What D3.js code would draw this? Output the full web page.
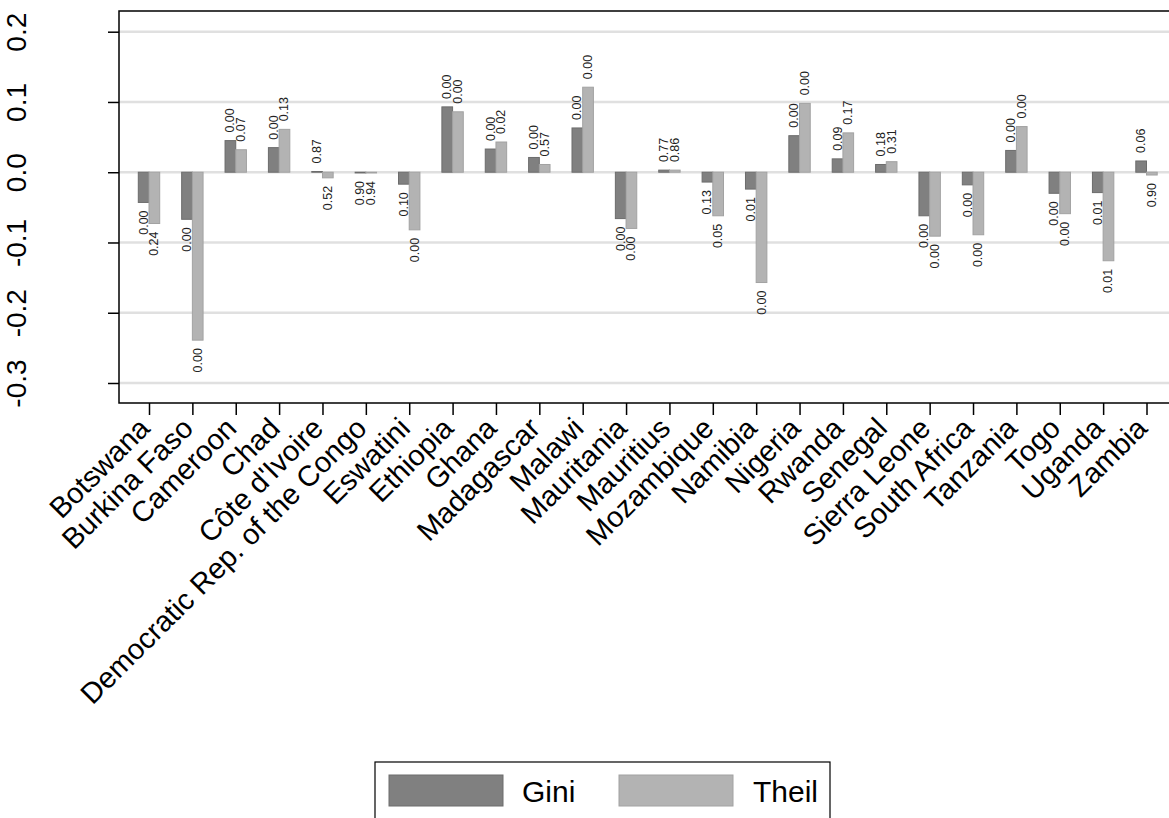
<!DOCTYPE html>
<html>
<head>
<meta charset="utf-8">
<script src="https://cdn.jsdelivr.net/npm/d3@7"></script>
<style>
body { margin: 0; background: #fff; }
text { font-family: "Liberation Sans", Arial, sans-serif; }
</style>
</head>
<body>
<svg id="chart" width="1169" height="818"></svg>
<script>
var countries = ["Botswana", "Burkina Faso", "Cameroon", "Chad", "Côte d'Ivoire",
    "Democratic Rep. of the Congo", "Eswatini", "Ethiopia", "Ghana", "Madagascar",
    "Malawi", "Mauritania", "Mauritius", "Mozambique", "Namibia", "Nigeria", "Rwanda",
    "Senegal", "Sierra Leone", "South Africa", "Tanzania", "Togo", "Uganda", "Zambia"];

var giniValues = [-0.043, -0.067, 0.045, 0.035, 0.001, -0.001, -0.017, 0.093, 0.033, 0.021,
    0.063, -0.066, 0.003, -0.014, -0.024, 0.052, 0.019, 0.011, -0.062, -0.018,
    0.031, -0.030, -0.029, 0.016];
var theilValues = [-0.073, -0.239, 0.032, 0.061, -0.008, -0.001, -0.082, 0.086, 0.043, 0.011,
    0.121, -0.080, 0.003, -0.062, -0.157, 0.098, 0.056, 0.015, -0.091, -0.089,
    0.065, -0.059, -0.126, -0.004];

// p-values printed at the end of each bar
var giniPValues = ["0.00", "0.00", "0.00", "0.00", "0.87", "0.90", "0.10", "0.00", "0.00", "0.00",
    "0.00", "0.00", "0.77", "0.13", "0.01", "0.00", "0.09", "0.18", "0.00", "0.00",
    "0.00", "0.00", "0.01", "0.06"];
var theilPValues = ["0.24", "0.00", "0.07", "0.13", "0.52", "0.94", "0.00", "0.00", "0.02", "0.57",
    "0.00", "0.00", "0.86", "0.05", "0.00", "0.00", "0.17", "0.31", "0.00", "0.00",
    "0.00", "0.00", "0.01", "0.90"];

var yTicks = [-0.3, -0.2, -0.1, 0.0, 0.1, 0.2];
var seriesNames = ["Gini", "Theil"];
var seriesColors = ["#808080", "#b3b3b3"];
var seriesStrokes = ["#6c6c6c", "#a2a2a2"];

var svg = d3.select("#chart");

var plotLeft = 119, plotTop = 11, plotBottom = 403, plotRight = 1180;

var x = d3.scalePoint()
    .domain(countries)
    .range([149, 1146.5]);

var barWidth = 10.7;

var y = d3.scaleLinear()
    .domain([-0.3, 0.2])
    .range([383, 31.7]);

// gridlines
svg.append("g")
    .selectAll("line")
    .data(yTicks)
    .enter().append("line")
    .attr("x1", plotLeft)
    .attr("x2", plotRight)
    .attr("y1", function (d) { return y(d); })
    .attr("y2", function (d) { return y(d); })
    .attr("stroke", "#e0e0e0")
    .attr("stroke-width", 2.5);

var rows = countries.map(function (c, i) {
    return {country: c, values: [giniValues[i], theilValues[i]], labels: [giniPValues[i], theilPValues[i]]};
});

var barData = [];
rows.forEach(function (r) {
    [0, 1].forEach(function (s) {
        barData.push({country: r.country, series: s, value: r.values[s], label: r.labels[s]});
    });
});

function barX(d) {
    return x(d.country) - barWidth + d.series * barWidth;
}

svg.append("g")
    .selectAll("rect")
    .data(barData)
    .enter().append("rect")
    .attr("x", barX)
    .attr("width", barWidth)
    .attr("y", function (d) { return Math.min(y(d.value), y(0)); })
    .attr("height", function (d) { return Math.abs(y(d.value) - y(0)); })
    .attr("fill", function (d) { return seriesColors[d.series]; })
    .attr("stroke", function (d) { return seriesStrokes[d.series]; })
    .attr("stroke-width", 1);

svg.append("g")
    .selectAll("text")
    .data(barData)
    .enter().append("text")
    .attr("transform", function (d) {
        var cx = barX(d) + barWidth / 2;
        var cy = d.value >= 0 ? y(d.value) - 8 : y(d.value) + 8;
        return "translate(" + cx + "," + cy + ") rotate(-90)";
    })
    .attr("text-anchor", function (d) { return d.value >= 0 ? "start" : "end"; })
    .attr("dominant-baseline", "central")
    .attr("font-size", 12.5)
    .attr("fill", "#222")
    .text(function (d) { return d.label; });

// axes
var fmt = d3.format(".1f");
var yAxis = svg.append("g")
    .attr("transform", "translate(" + plotLeft + ",0)")
    .call(d3.axisLeft(y).tickValues(yTicks).tickSize(11)
        .tickFormat(function (d) { return fmt(d).replace("\u2212", "-"); }));
yAxis.select(".domain").remove();
yAxis.selectAll(".tick line").attr("stroke", "#000").attr("stroke-width", 1.5);
yAxis.selectAll(".tick text")
    .attr("x", null).attr("dy", null)
    .attr("transform", "translate(-93,0) rotate(-90)")
    .attr("text-anchor", "middle")
    .attr("font-size", 28)
    .attr("font-family", "Liberation Sans, Arial, sans-serif")
    .attr("fill", "#000");

var xAxis = svg.append("g")
    .attr("transform", "translate(0," + plotBottom + ")")
    .call(d3.axisBottom(x).tickSize(12));
xAxis.select(".domain").remove();
xAxis.selectAll(".tick line").attr("stroke", "#000").attr("stroke-width", 1.5);
xAxis.selectAll(".tick text")
    .attr("y", null).attr("dy", null)
    .attr("transform", "translate(2,27) rotate(-45)")
    .attr("text-anchor", "end")
    .attr("font-size", 29)
    .attr("font-family", "Liberation Sans, Arial, sans-serif")
    .attr("fill", "#000");

// plot frame
svg.append("path")
    .attr("d", "M" + plotRight + "," + plotTop + "H" + plotLeft + "V" + plotBottom + "H" + plotRight)
    .attr("fill", "none")
    .attr("stroke", "#000")
    .attr("stroke-width", 1.5);

// legend
var legend = svg.append("g");
legend.append("rect")
    .attr("x", 375).attr("y", 762)
    .attr("width", 455).attr("height", 80)
    .attr("fill", "#fff")
    .attr("stroke", "#000")
    .attr("stroke-width", 1.2);

var legendItems = legend.selectAll("g.item")
    .data(seriesNames)
    .enter().append("g")
    .attr("class", "item")
    .attr("transform", function (d, i) { return "translate(" + (389 + i * 230) + ",775)"; });

legendItems.append("rect")
    .attr("width", 114).attr("height", 31)
    .attr("fill", function (d, i) { return seriesColors[i]; })
    .attr("stroke", function (d, i) { return seriesStrokes[i]; });

legendItems.append("text")
    .attr("x", function (d, i) { return i === 0 ? 133 : 134; })
    .attr("y", 27)
    .attr("font-size", 30)
    .attr("fill", "#000")
    .text(function (d) { return d; });
</script>
</body>
</html>
